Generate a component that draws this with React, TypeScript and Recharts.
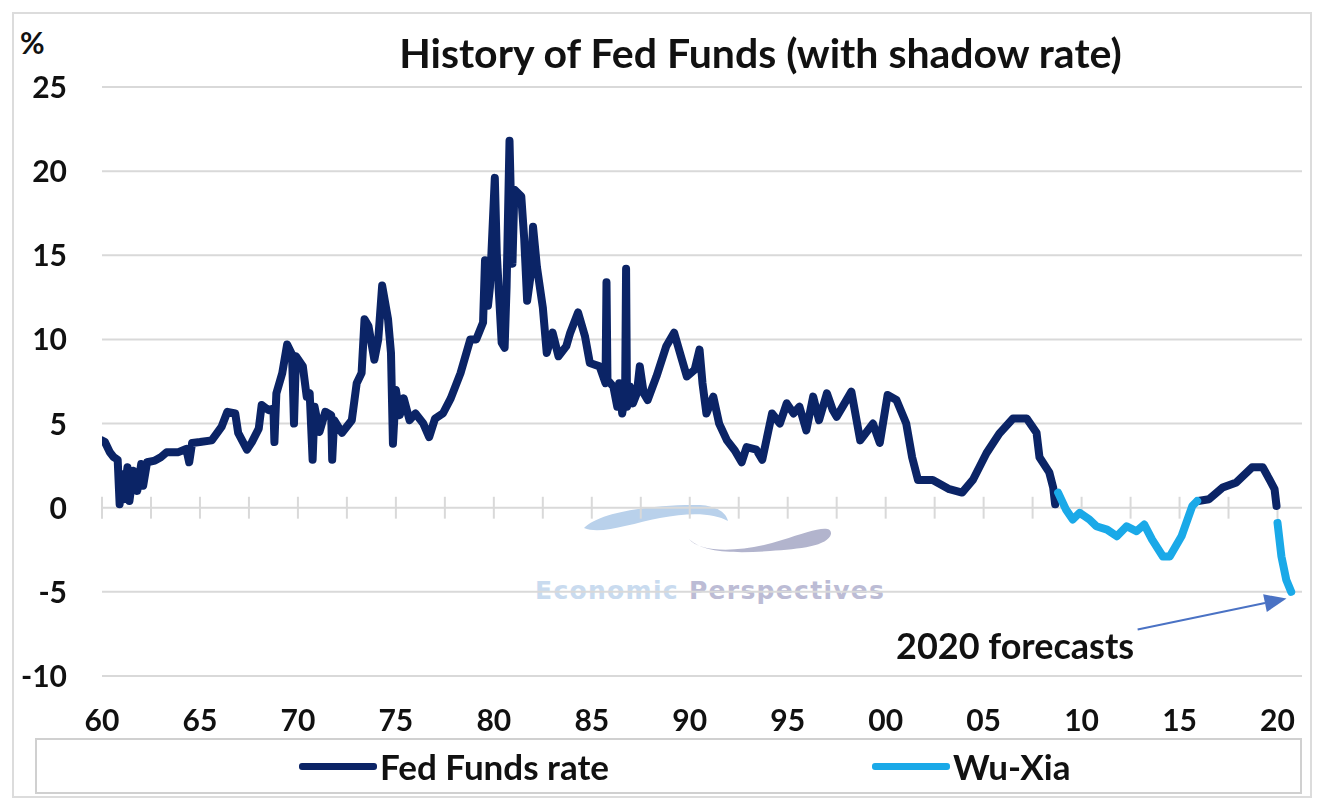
import React from 'react';
import { LineChart, Line, XAxis, YAxis, CartesianGrid, ReferenceLine } from 'recharts';

// [decimal year, % rate]; null breaks the line
const fedFunds: [number, number | null][] = [
  [1960.0, 4.0], [1960.15, 3.9], [1960.4, 3.3], [1960.6, 3.0], [1960.8, 2.85], [1960.9, 0.2],
  [1961.0, 2.0], [1961.1, 0.5], [1961.3, 2.4], [1961.4, 0.4], [1961.6, 2.2], [1961.8, 1.0],
  [1962.0, 2.6], [1962.1, 1.3], [1962.3, 2.7], [1962.7, 2.8], [1963.0, 3.0], [1963.3, 3.3],
  [1963.9, 3.3], [1964.3, 3.5], [1964.45, 2.7], [1964.6, 3.85], [1965.0, 3.9], [1965.6, 4.0],
  [1966.1, 4.8], [1966.4, 5.7], [1966.8, 5.6], [1966.95, 4.45], [1967.4, 3.45], [1967.65, 3.9],
  [1968.0, 4.7], [1968.15, 6.1], [1968.5, 5.8], [1968.75, 5.9], [1968.8, 3.9], [1968.9, 6.8],
  [1969.2, 8.0], [1969.45, 9.7], [1969.7, 9.1], [1969.8, 5.0], [1969.9, 9.0], [1970.25, 8.4],
  [1970.45, 6.6], [1970.6, 6.8], [1970.75, 2.85], [1970.85, 6.0], [1971.1, 4.5], [1971.4, 5.7],
  [1971.7, 5.5], [1971.75, 2.85], [1971.85, 5.2], [1972.25, 4.45], [1972.75, 5.2], [1973.0, 7.4],
  [1973.25, 8.0], [1973.4, 11.2], [1973.6, 10.8], [1973.9, 8.8], [1974.1, 10.0], [1974.3, 13.2],
  [1974.6, 11.2], [1974.75, 9.2], [1974.85, 3.8], [1975.0, 7.0], [1975.2, 5.5], [1975.4, 6.5],
  [1975.7, 5.2], [1976.0, 5.6], [1976.4, 5.0], [1976.7, 4.2], [1977.0, 5.3], [1977.4, 5.6],
  [1977.8, 6.5], [1978.3, 8.0], [1978.8, 10.0], [1979.1, 10.0], [1979.45, 11.0], [1979.55, 14.7],
  [1979.7, 12.0], [1979.8, 13.1], [1980.05, 19.6], [1980.15, 15.1], [1980.4, 9.8], [1980.55, 9.5],
  [1980.65, 13.1], [1980.8, 21.8], [1980.95, 14.5], [1981.05, 18.9], [1981.4, 18.5], [1981.55, 16.0],
  [1981.7, 12.3], [1981.9, 14.0], [1982.0, 16.7], [1982.2, 14.3], [1982.5, 11.9], [1982.7, 9.2],
  [1983.0, 10.4], [1983.3, 9.0], [1983.7, 9.6], [1983.9, 10.4], [1984.3, 11.6], [1984.65, 10.2],
  [1984.9, 8.6], [1985.4, 8.4], [1985.7, 7.4], [1985.75, 13.4], [1985.8, 7.6], [1986.1, 7.2],
  [1986.3, 6.0], [1986.4, 7.4], [1986.55, 5.6], [1986.7, 6.6], [1986.75, 14.2], [1986.8, 6.0],
  [1986.95, 7.2], [1987.1, 6.2], [1987.3, 6.8], [1987.45, 8.4], [1987.65, 6.8], [1987.85, 6.4],
  [1988.3, 7.8], [1988.8, 9.6], [1989.2, 10.4], [1989.6, 8.8], [1989.85, 7.8],
  [1990.25, 8.2], [1990.5, 9.4], [1990.65, 7.4], [1990.85, 5.6], [1991.2, 6.6], [1991.5, 5.0],
  [1991.9, 4.0], [1992.3, 3.4], [1992.65, 2.7], [1992.9, 3.6], [1993.4, 3.45], [1993.7, 2.85],
  [1994.2, 5.6], [1994.6, 5.0], [1994.95, 6.2], [1995.3, 5.6], [1995.6, 6.0], [1995.95, 4.6],
  [1996.3, 6.6], [1996.6, 5.2], [1997.0, 6.8], [1997.3, 5.8], [1997.5, 5.4], [1997.9, 6.2],
  [1998.25, 6.9], [1998.7, 4.0], [1999.35, 5.0], [1999.7, 3.85], [2000.1, 6.7], [2000.55, 6.4],
  [2001.05, 5.0], [2001.35, 3.0], [2001.65, 1.65], [2002.4, 1.65], [2003.25, 1.1], [2003.9, 0.9],
  [2004.45, 1.65], [2005.15, 3.25], [2005.8, 4.4], [2006.5, 5.3], [2007.2, 5.3], [2007.7, 4.45],
  [2007.85, 3.0], [2008.35, 2.1], [2008.55, 1.2], [2008.65, 0.2], [2012.0, null],
  [2015.95, 0.4], [2016.5, 0.5], [2017.2, 1.2], [2017.9, 1.5], [2018.7, 2.4], [2019.25, 2.4],
  [2019.6, 1.65], [2019.85, 1.1], [2019.95, 0.1],
];

const wuXia: [number, number | null][] = [
  [2008.8, 0.9], [2009.2, -0.1], [2009.55, -0.7], [2009.9, -0.3], [2010.4, -0.7], [2010.75, -1.1],
  [2011.3, -1.3], [2011.8, -1.7], [2012.3, -1.1], [2012.8, -1.4], [2013.2, -1.0], [2013.6, -1.9],
  [2014.15, -2.9], [2014.5, -2.9], [2015.1, -1.7], [2015.65, 0.1], [2015.9, 0.4],
  [2018.0, null],
  [2020.0, -0.9], [2020.2, -2.9], [2020.45, -4.3], [2020.7, -5.0],
];

const yTicks = [-10, -5, 0, 5, 10, 15, 20, 25];
const xTicks = [1960, 1965, 1970, 1975, 1980, 1985, 1990, 1995, 2000, 2005, 2010, 2015, 2020];
const xTickLabels = ['60', '65', '70', '75', '80', '85', '90', '95', '00', '05', '10', '15', '20'];
const minorTicks = [
  1960, 1962.5, 1965, 1967.5, 1970, 1972.5, 1975, 1977.5, 1980, 1982.5, 1985, 1987.5, 1990,
  1992.5, 1995, 1997.5, 2000, 2002.5, 2005, 2007.5, 2010, 2012.5, 2015, 2017.5, 2020,
];

const series = [
  { name: 'Fed Funds rate', color: '#0B2466', points: fedFunds },
  { name: 'Wu-Xia', color: '#1AA9E8', points: wuXia },
];

const FONT = 'Lato, "Open Sans", sans-serif';

const toRows = (pts: [number, number | null][]) => pts.map(([year, v]) => ({ year, v }));

const XTick = (props: any) => {
  const { x, y, payload } = props;
  const i = xTicks.indexOf(payload.value);
  return (
    <text x={x} y={y + 55} textAnchor="middle" fontFamily={FONT} fontWeight={700} fontSize={30} fill="#111">
      {xTickLabels[i]}
    </text>
  );
};

const YTick = (props: any) => {
  const { y, payload } = props;
  return (
    <text x={67} y={y + 11} textAnchor="end" fontFamily={FONT} fontWeight={700} fontSize={30} fill="#111">
      {payload.value}
    </text>
  );
};

const ArrowShape = (props: any) => {
  const { x1, y1, x2, y2 } = props;
  if (x1 == null) return null;
  const a = Math.atan2(y2 - y1, x2 - x1);
  const len = 22;
  const w = 9;
  const bx = x2 - len * Math.cos(a);
  const by = y2 - len * Math.sin(a);
  const px = -Math.sin(a) * w;
  const py = Math.cos(a) * w;
  return (
    <g>
      <line x1={x1} y1={y1} x2={bx} y2={by} stroke="#4A72C4" strokeWidth={2} />
      <polygon points={`${x2},${y2} ${bx + px},${by + py} ${bx - px},${by - py}`} fill="#4A72C4" />
    </g>
  );
};

const App: React.FC = () => {
  return (
    <div style={{ position: 'fixed', left: 0, top: 0, width: 1321, height: 802, background: '#fff', fontFamily: FONT }}>
      <div style={{ position: 'absolute', left: 12, top: 12, width: 1296, height: 782, border: '2px solid #dcdcdc' }} />

      {/* watermark */}
      <svg width={1321} height={802} style={{ position: 'absolute', left: 0, top: 0 }}>
        <path d="M584,528 C600,511 660,504 700,505 C716,506 726,512 728,521 C714,513 690,512 660,518 C630,524 600,535 584,528 Z" fill="#b9d1eb" />
        <path d="M689,539 C700,553 742,553 782,540 C810,531 832,523 831,534 C828,546 800,549 770,551 C740,553 704,554 689,539 Z" fill="#b2b4cd" />
        <text x={535} y={599} fontFamily="DejaVu Sans, sans-serif" fontWeight={700} fontSize={25} letterSpacing={1.3}>
          <tspan fill="#c9dbef">Economic </tspan>
          <tspan fill="#bcbcd5">Perspectives</tspan>
        </text>
      </svg>

      <div style={{ position: 'absolute', left: 20, top: 24, fontSize: 30, fontWeight: 700, color: '#111' }}>%</div>
      <div style={{ position: 'absolute', left: 0, width: 1521, top: 28, textAlign: 'center', fontSize: 41, fontWeight: 700, color: '#111' }}>
        History of Fed Funds (with shadow rate)
      </div>

      <LineChart
        width={1321}
        height={802}
        margin={{ top: 87, right: 19, bottom: 86, left: 0 }}
        style={{ position: 'absolute', left: 0, top: 0 }}
      >
        <CartesianGrid vertical={false} stroke="#d9d9d9" strokeWidth={2} />
        <XAxis
          dataKey="year"
          type="number"
          domain={[1960, 2021.25]}
          ticks={xTicks}
          allowDataOverflow
          axisLine={false}
          tickLine={false}
          tickSize={0}
          tickMargin={0}
          height={40}
          tick={<XTick />}
          interval={0}
        />
        <YAxis
          type="number"
          domain={[-10, 25]}
          ticks={yTicks}
          axisLine={false}
          tickLine={false}
          width={102}
          tick={<YTick />}
          interval={0}
        />
        {minorTicks.map((t) => (
          <ReferenceLine
            key={t}
            segment={[{ x: t, y: -0.65 }, { x: t, y: 0.65 }]}
            stroke="#d9d9d9"
            strokeWidth={2}
          />
        ))}
        {series.map((s) => (
          <Line
            key={s.name}
            data={toRows(s.points)}
            dataKey="v"
            name={s.name}
            type="linear"
            stroke={s.color}
            strokeWidth={8}
            strokeLinejoin="round"
            strokeLinecap="round"
            dot={false}
            connectNulls={false}
            isAnimationActive={false}
          />
        ))}
        <ReferenceLine
          segment={[{ x: 2012.86, y: -7.24 }, { x: 2020.46, y: -5.4 }]}
          shape={<ArrowShape />}
        />
      </LineChart>

      <div style={{ position: 'absolute', left: 896, top: 623, fontSize: 36, fontWeight: 700, color: '#111', whiteSpace: 'nowrap' }}>
        2020 forecasts
      </div>

      {/* legend */}
      <div style={{ position: 'absolute', left: 35, top: 738, width: 1263, height: 52, border: '2px solid #d0d0d0', background: '#fff' }}>
        {series.map((s, i) => (
          <div key={s.name} style={{ position: 'absolute', left: i === 0 ? 262 : 835, top: 4, height: 44, display: 'flex', alignItems: 'center', whiteSpace: 'nowrap' }}>
            <span style={{ display: 'inline-block', width: 78, height: 7, borderRadius: 3, background: s.color, marginRight: 3 }} />
            <span style={{ fontSize: 35, fontWeight: 700, color: '#111', lineHeight: '44px' }}>{s.name}</span>
          </div>
        ))}
      </div>
    </div>
  );
};

export default App;
